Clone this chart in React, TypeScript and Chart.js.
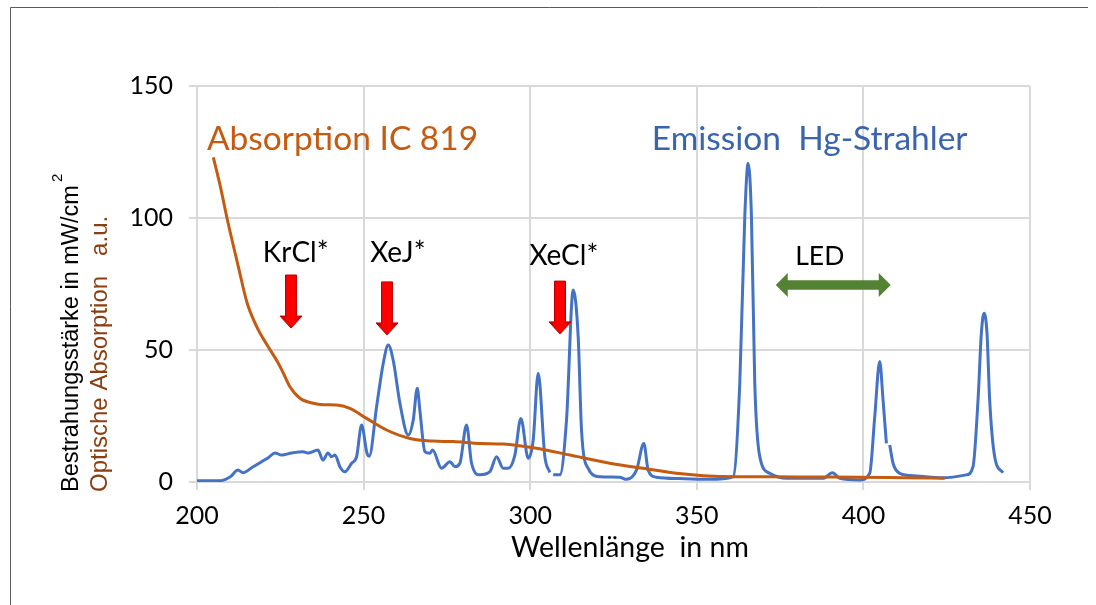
import { useEffect, useRef } from "react";
import { Chart, registerables } from "chart.js";

Chart.register(...registerables);

// Hg lamp emission spectrum (irradiance, mW/cm²)
const emissionNm = [
  200, 207, 210, 212.3, 213.8, 216.5, 219.4, 221.5, 223.4, 225.4, 228.4, 231.8, 233.3, 236.3, 237.8,
  239.3, 240.4, 241.4, 243, 244.4, 246.4, 247.9, 249.4, 251.0, 251.7, 253.9, 255.9, 257.4, 258.9,
  260.9, 263.4, 264.9, 266.1, 266.9, 268.4, 269.9, 270.7, 273.4, 275.9, 277.4, 278.9, 280.9, 282.4,
  284.9, 287.9, 289.9, 291.9, 293.4, 295.4, 297.2, 299.4, 300.9, 302.4, 304.4, 305.9, 306.4, 306.9,
  308.9, 310.9, 312.9, 314.4, 315.4, 317.4, 320.9, 326.9, 328.9, 331.9, 334.1, 335.4, 337.9, 344.9,
  353.9, 360.9, 362.9, 364.4, 365.4, 366.4, 367.4, 368.9, 371.9, 376.9, 387.9, 390.7, 392.9, 398.9,
  401.9, 403.4, 404.9, 405.9, 406.9, 407.4, 407.9, 408.9, 410.9, 415.9, 423.9, 430.9, 432.9, 434.4,
  435.4, 436.2, 437.1, 437.9, 439.4, 441.9,
];
const emissionVal = [
  0.5, 0.5, 2.0, 4.5, 3.5, 5.5, 7.7, 9.3, 11, 10.2, 11, 11.5, 11, 12.1, 8.3,
  11, 9.6, 10.2, 5.5, 3.9, 7.1, 9.6, 21.6, 11, 9.8, 28.5, 45, 51.9, 46,
  29.8, 17.8, 23.5, 35.5, 27, 11.5, 10.9, 12.1, 5.2, 7.7, 5.8, 7.1, 21.6, 7.1,
  2.7, 3.9, 9.6, 5.2, 5.2, 10.2, 24.1, 9.0, 15.9, 41.2, 9.6, 3.6, null, 2.7,
  2.7, 23.5, 72.7, 55, 19.7, 5.2, 2, 1.8, 1.0, 4.5, 14.6, 4.5, 1.8, 1.3,
  1.0, 2, 37.4, 100.5, 120.7, 100.5, 37.4, 9.6, 3.3, 1.4, 1.4, 3.5, 1.4, 0.8,
  3.3, 24.7, 45.6, 31, 14.6, null, 14, 7.1, 3.3, 2.3, 1.6, 2.7, 5.8, 31,
  56.3, 63.9, 56.3, 31, 9.6, 3.5,
];

// Optical absorption of IC 819 (arbitrary units)
const absorptionNm = [
  204.9, 207, 209, 212.4, 215, 218.4, 221, 224.4, 226, 227.9, 230.9, 234.9, 238, 241.9, 245.9,
  250.9, 256.9, 263.9, 270.9, 276.9, 284.9, 291.9, 301.9, 311.9, 323.9, 333.9, 343.9, 351.9,
  361.9, 371.9, 385, 398.9, 412, 424.4,
];
const absorptionVal = [
  123, 112, 100, 81.6, 68, 57.6, 52, 45, 41, 36.1, 31.7, 29.8, 29.3, 29.2, 27.9,
  24.1, 19.7, 16.5, 15.5, 15.3, 14.6, 14.4, 12.8, 10.2, 7.1, 5.2, 3.3, 2.4,
  2.0, 2.0, 1.9, 1.8, 1.6, 1.4,
];

const xTicks = [200, 250, 300, 350, 400, 450];
const yTicks = [0, 50, 100, 150];

// Excimer lamp markers
const excimerNames = ["KrCl*", "XeJ*", "XeCl*"];

const BLUE = "#4472C4";
const ORANGE = "#C55A11";
const LABEL_FONT = "Lato, 'Open Sans', sans-serif";
const TITLE_FONT = "'Liberation Sans', Arial, sans-serif";

const annotations = {
  absorptionTitle: { text: "Absorption IC 819", nm: 203, val: 125.8, size: 33.5, color: ORANGE },
  emissionTitle: { text: "Emission  Hg-Strahler", nm: 336.5, val: 125.8, size: 33.5, color: "#3A64AE" },
  excimerLabelNm: [229.6, 260.3, 310.1],
  excimerLabelVal: [83.3, 83.3, 82.2],
  excimerArrowNm: [228.2, 257, 308.8],
  excimerArrowTop: [78.4, 75.8, 76.1],
  excimerArrowTip: [58.3, 55.7, 56.1],
  led: { text: "LED", nm: 386.9, val: 82.2, fromNm: 373.7, toNm: 408.2, arrowVal: 74.6 },
};

function drawDownArrow(ctx: CanvasRenderingContext2D, cx: number, top: number, tip: number) {
  const shaftHalf = 5.5;
  const headHalf = 11;
  const headLen = 12;
  const grad = ctx.createLinearGradient(cx - headHalf, 0, cx + headHalf, 0);
  grad.addColorStop(0, "#B00000");
  grad.addColorStop(0.35, "#FF0000");
  grad.addColorStop(0.65, "#FF0000");
  grad.addColorStop(1, "#B00000");
  ctx.beginPath();
  ctx.moveTo(cx - shaftHalf, top);
  ctx.lineTo(cx + shaftHalf, top);
  ctx.lineTo(cx + shaftHalf, tip - headLen);
  ctx.lineTo(cx + headHalf, tip - headLen);
  ctx.lineTo(cx, tip);
  ctx.lineTo(cx - headHalf, tip - headLen);
  ctx.lineTo(cx - shaftHalf, tip - headLen);
  ctx.closePath();
  ctx.fillStyle = grad;
  ctx.fill();
  ctx.strokeStyle = "#C00000";
  ctx.lineWidth = 1;
  ctx.stroke();
}

function drawDoubleArrow(ctx: CanvasRenderingContext2D, x1: number, x2: number, cy: number) {
  const shaftHalf = 4.7;
  const headHalf = 12;
  const headLen = 12;
  ctx.beginPath();
  ctx.moveTo(x1, cy);
  ctx.lineTo(x1 + headLen, cy - headHalf);
  ctx.lineTo(x1 + headLen, cy - shaftHalf);
  ctx.lineTo(x2 - headLen, cy - shaftHalf);
  ctx.lineTo(x2 - headLen, cy - headHalf);
  ctx.lineTo(x2, cy);
  ctx.lineTo(x2 - headLen, cy + headHalf);
  ctx.lineTo(x2 - headLen, cy + shaftHalf);
  ctx.lineTo(x1 + headLen, cy + shaftHalf);
  ctx.lineTo(x1 + headLen, cy + headHalf);
  ctx.closePath();
  ctx.fillStyle = "#548235";
  ctx.fill();
}

const decorPlugin = {
  id: "spectrumDecor",
  beforeDraw(chart: Chart) {
    const ctx = chart.ctx;
    ctx.save();
    ctx.strokeStyle = "#595959";
    ctx.lineWidth = 1;
    ctx.beginPath();
    ctx.moveTo(10.5, 605);
    ctx.lineTo(10.5, 7.5);
    ctx.lineTo(1088, 7.5);
    ctx.stroke();
    ctx.restore();
  },
  afterDraw(chart: Chart) {
    const ctx = chart.ctx;
    const xs = chart.scales.x;
    const ys = chart.scales.y;
    const px = (v: number) => xs.getPixelForValue(v);
    const py = (v: number) => ys.getPixelForValue(v);
    ctx.save();
    ctx.textBaseline = "alphabetic";

    // series captions
    for (const t of [annotations.absorptionTitle, annotations.emissionTitle]) {
      ctx.font = `${t.size}px ${LABEL_FONT}`;
      ctx.fillStyle = t.color;
      ctx.textAlign = "left";
      ctx.fillText(t.text, px(t.nm), py(t.val));
    }

    // excimer labels and arrows
    ctx.font = `28px ${LABEL_FONT}`;
    ctx.fillStyle = "#000";
    ctx.textAlign = "center";
    excimerNames.forEach((name, i) => {
      ctx.fillStyle = "#000";
      ctx.fillText(name, px(annotations.excimerLabelNm[i]), py(annotations.excimerLabelVal[i]));
      drawDownArrow(
        ctx,
        Math.round(px(annotations.excimerArrowNm[i])),
        py(annotations.excimerArrowTop[i]),
        py(annotations.excimerArrowTip[i])
      );
    });

    // LED range
    const led = annotations.led;
    ctx.font = `26.5px ${LABEL_FONT}`;
    ctx.fillStyle = "#000";
    ctx.fillText(led.text, px(led.nm), py(led.val));
    drawDoubleArrow(ctx, px(led.fromNm), px(led.toNm), py(led.arrowVal));

    // x axis title
    ctx.font = `28.5px ${LABEL_FONT}`;
    ctx.fillStyle = "#000";
    ctx.textAlign = "center";
    ctx.fillText("Wellenlänge  in nm", 630, 557);

    // y axis titles (rotated)
    ctx.font = `23.5px ${TITLE_FONT}`;
    ctx.textAlign = "left";
    ctx.textBaseline = "middle";
    ctx.save();
    ctx.translate(72, 492);
    ctx.rotate(-Math.PI / 2);
    ctx.fillStyle = "#000";
    const line1 = "Bestrahungsstärke in mW/cm";
    ctx.fillText(line1, 0, 0);
    const w1 = ctx.measureText(line1).width;
    ctx.font = `15px ${TITLE_FONT}`;
    ctx.fillText("2", w1 + 3, -14);
    ctx.restore();

    ctx.save();
    ctx.font = `24px ${TITLE_FONT}`;
    ctx.translate(100, 492);
    ctx.rotate(-Math.PI / 2);
    ctx.fillStyle = "#8B3E0F";
    ctx.fillText("Optische Absorption   a.u.", 0, 0);
    ctx.restore();

    ctx.restore();
  },
};

export default function App() {
  const canvasRef = useRef<HTMLCanvasElement | null>(null);

  useEffect(() => {
    const canvas = canvasRef.current;
    if (!canvas) return;
    const chart = new Chart(canvas, {
      type: "line",
      data: {
        datasets: [
          {
            label: "Emission Hg-Strahler",
            data: emissionNm.map((x, i) => ({ x, y: emissionVal[i] })),
            borderColor: BLUE,
            borderWidth: 3,
            pointRadius: 0,
            cubicInterpolationMode: "monotone",
            spanGaps: false,
            order: 1,
          },
          {
            label: "Absorption IC 819",
            data: absorptionNm.map((x, i) => ({ x, y: absorptionVal[i] })),
            borderColor: ORANGE,
            borderWidth: 3,
            pointRadius: 0,
            cubicInterpolationMode: "monotone",
            order: 0,
          },
        ],
      },
      options: {
        animation: false,
        responsive: false,
        maintainAspectRatio: false,
        layout: { padding: { top: 86, right: 66, left: 0, bottom: 0 } },
        plugins: { legend: { display: false }, tooltip: { enabled: false } },
        scales: {
          x: {
            type: "linear",
            min: xTicks[0],
            max: xTicks[xTicks.length - 1],
            afterBuildTicks: (s: any) => {
              s.ticks = xTicks.map((v) => ({ value: v }));
            },
            afterFit: (s: any) => {
              s.height = 123;
            },
            grid: { color: "#D9D9D9", lineWidth: 2, tickLength: 8, tickColor: "#D9D9D9" },
            border: { color: "#D9D9D9", width: 2 },
            ticks: {
              font: { family: LABEL_FONT, size: 25 },
              color: "#000",
              padding: 11,
              maxRotation: 0,
            },
          },
          y: {
            type: "linear",
            min: yTicks[0],
            max: yTicks[yTicks.length - 1],
            afterBuildTicks: (s: any) => {
              s.ticks = yTicks.map((v) => ({ value: v }));
            },
            afterFit: (s: any) => {
              s.width = 197;
            },
            grid: { color: "#D9D9D9", lineWidth: 2, tickLength: 8, tickColor: "#D9D9D9" },
            border: { color: "#D9D9D9", width: 2 },
            ticks: {
              font: { family: LABEL_FONT, size: 25 },
              color: "#000",
              padding: 16,
            },
          },
        },
      },
      plugins: [decorPlugin],
    });
    return () => chart.destroy();
  }, []);

  return (
    <div style={{ position: "fixed", left: 0, top: 0, width: 1096, height: 605, background: "#fff" }}>
      <canvas ref={canvasRef} width={1096} height={605} />
    </div>
  );
}
